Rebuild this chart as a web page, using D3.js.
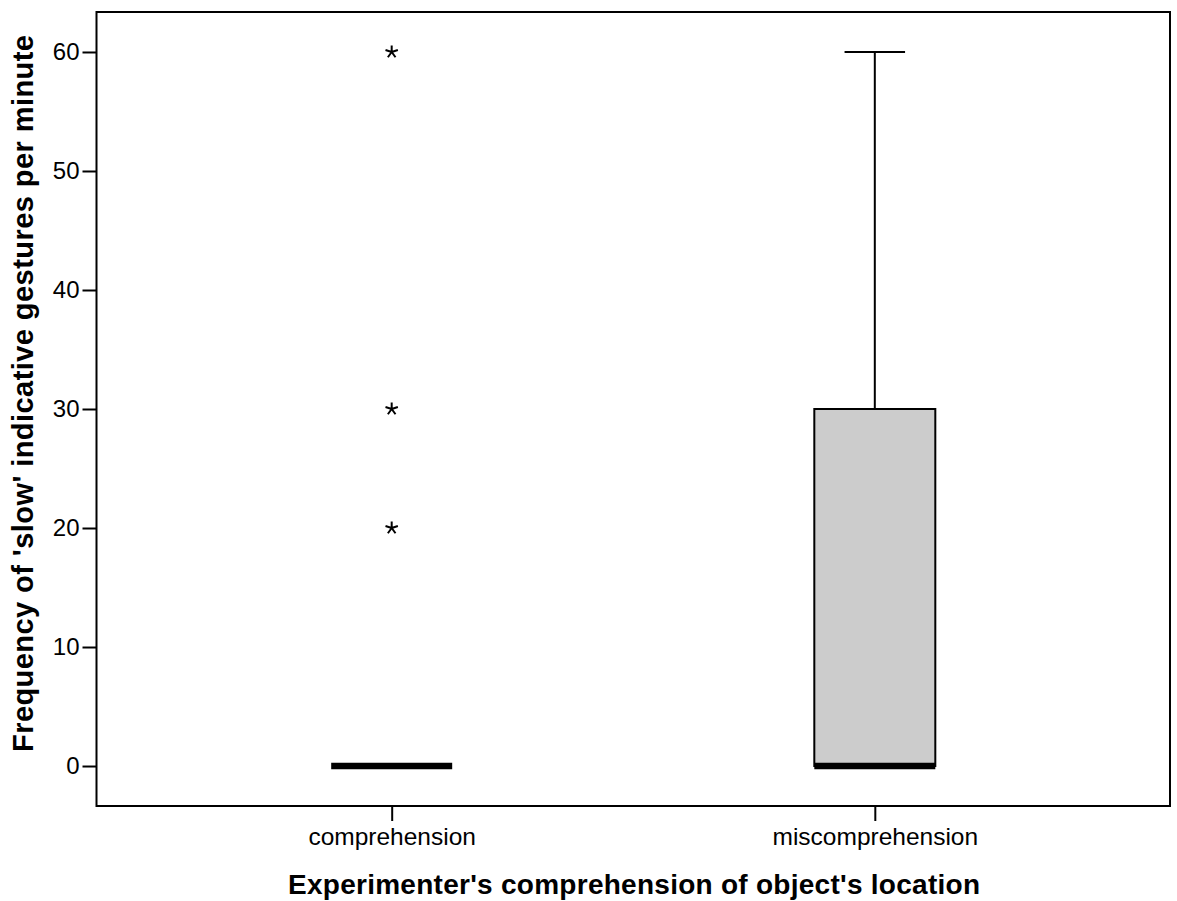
<!DOCTYPE html>
<html>
<head>
<meta charset="utf-8">
<script src="https://cdn.jsdelivr.net/npm/d3@7"></script>
<style>
  html, body { margin: 0; padding: 0; background: #fff; }
  svg { display: block; }
  text { font-family: Arial, "Liberation Sans", sans-serif; fill: #000; }
</style>
</head>
<body>
<svg id="chart" width="1177" height="901"></svg>
<script>
// Box plot summary per group
const categories = ["comprehension", "miscomprehension"];
const lowerWhisker = [0, 0];
const q1 = [0, 0];
const median = [0, 0];
const q3 = [0, 30];
const upperWhisker = [0, 60];
// Extreme values (plotted as asterisks)
const extremeGroup = ["comprehension", "comprehension", "comprehension"];
const extremeValue = [60, 30, 20];
const yTicks = [0, 10, 20, 30, 40, 50, 60];

const xTitle = "Experimenter's comprehension of object's location";
const yTitle = "Frequency of 'slow' indicative gestures per minute";

const svg = d3.select("#chart");
const frame = { left: 96.5, right: 1170, top: 12, bottom: 806 };

const y = d3.scaleLinear().domain([-3.36, 63.36]).range([frame.bottom, frame.top]);
const x = d3.scalePoint().domain(categories).range([frame.left, frame.right]).padding(0.611);

const boxW = 121;
const capW = boxW / 2;
const fontStack = "Arial, 'Liberation Sans', sans-serif";

// y axis
const yAxis = d3.axisLeft(y).tickValues(yTicks).tickSize(14).tickPadding(3).tickFormat(d3.format("d"));
const gy = svg.append("g").attr("transform", `translate(${frame.left},0)`).call(yAxis);
gy.select(".domain").remove();
gy.selectAll(".tick line").attr("stroke", "#000").attr("stroke-width", 2);
gy.selectAll(".tick text").attr("font-size", 24).attr("font-family", fontStack).attr("fill", "#000");

// x axis
const xAxis = d3.axisBottom(x).tickSize(15).tickPadding(7);
const gx = svg.append("g").attr("transform", `translate(0,${frame.bottom})`).call(xAxis);
gx.select(".domain").remove();
gx.selectAll(".tick line").attr("stroke", "#000").attr("stroke-width", 2);
gx.selectAll(".tick text").attr("font-size", 24.5).attr("font-family", fontStack).attr("fill", "#000");

// plot frame
svg.append("rect")
  .attr("x", frame.left).attr("y", frame.top)
  .attr("width", frame.right - frame.left).attr("height", frame.bottom - frame.top)
  .attr("fill", "none").attr("stroke", "#000").attr("stroke-width", 2);

const groups = categories.map((c, i) => ({
  c, lo: lowerWhisker[i], q1: q1[i], med: median[i], q3: q3[i], hi: upperWhisker[i]
}));

const g = svg.append("g");
groups.forEach(d => {
  const cx = x(d.c);
  // whiskers
  if (d.hi > d.q3) {
    g.append("line").attr("x1", cx).attr("x2", cx).attr("y1", y(d.q3)).attr("y2", y(d.hi))
      .attr("stroke", "#000").attr("stroke-width", 2);
    g.append("line").attr("x1", cx - capW / 2).attr("x2", cx + capW / 2).attr("y1", y(d.hi)).attr("y2", y(d.hi))
      .attr("stroke", "#000").attr("stroke-width", 2);
  }
  if (d.lo < d.q1) {
    g.append("line").attr("x1", cx).attr("x2", cx).attr("y1", y(d.q1)).attr("y2", y(d.lo))
      .attr("stroke", "#000").attr("stroke-width", 2);
    g.append("line").attr("x1", cx - capW / 2).attr("x2", cx + capW / 2).attr("y1", y(d.lo)).attr("y2", y(d.lo))
      .attr("stroke", "#000").attr("stroke-width", 2);
  }
  // box
  if (d.q3 > d.q1) {
    g.append("rect").attr("x", cx - boxW / 2).attr("y", y(d.q3))
      .attr("width", boxW).attr("height", y(d.q1) - y(d.q3))
      .attr("fill", "#cccccc").attr("stroke", "#000").attr("stroke-width", 2);
  }
  // median
  g.append("line").attr("x1", cx - boxW / 2).attr("x2", cx + boxW / 2)
    .attr("y1", y(d.med)).attr("y2", y(d.med))
    .attr("stroke", "#000").attr("stroke-width", 6.5);
});

// asterisk markers for extreme values
const r = 6.5;
function asteriskPath(cx, cy) {
  let p = "";
  for (let k = 0; k < 5; k++) {
    const a = -Math.PI / 2 + k * 2 * Math.PI / 5;
    p += `M${cx},${cy}L${cx + r * Math.cos(a)},${cy + r * Math.sin(a)}`;
  }
  return p;
}
g.selectAll(".extreme").data(extremeValue.map((v, i) => ({ c: extremeGroup[i], v })))
  .join("path").attr("class", "extreme")
  .attr("d", d => asteriskPath(x(d.c), y(d.v)))
  .attr("stroke", "#000").attr("stroke-width", 2).attr("fill", "none");

// axis titles
svg.append("text")
  .attr("x", 634)
  .attr("y", 894)
  .attr("text-anchor", "middle")
  .attr("font-size", 28).attr("font-weight", "bold")
  .attr("textLength", 692).attr("lengthAdjust", "spacing")
  .text(xTitle);

svg.append("text")
  .attr("transform", `translate(33,393.5) rotate(-90)`)
  .attr("text-anchor", "middle")
  .attr("font-size", 29).attr("font-weight", "bold")
  .attr("textLength", 717).attr("lengthAdjust", "spacing")
  .text(yTitle);
</script>
</body>
</html>
